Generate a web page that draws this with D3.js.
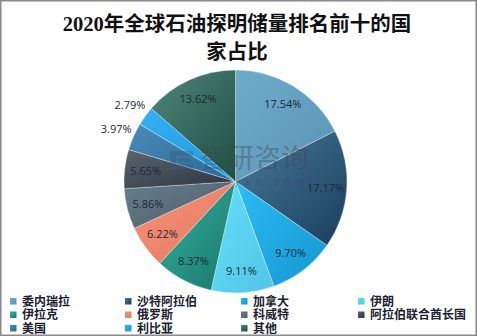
<!DOCTYPE html>
<html>
<head>
<meta charset="utf-8">
<script src="https://cdn.jsdelivr.net/npm/d3@7/dist/d3.min.js"></script>
<style>
  html, body { margin: 0; padding: 0; background: #fff; }
  svg { display: block; }
</style>
</head>
<body>
<svg id="chart" width="477" height="336"></svg>
<script>
// Share of proven oil reserves, 2020 (percent)
const countries = ["委内瑞拉", "沙特阿拉伯", "加拿大", "伊朗", "伊拉克", "俄罗斯", "科威特", "阿拉伯联合酋长国", "美国", "利比亚", "其他"];
const shares = [17.54, 17.17, 9.70, 9.11, 8.37, 6.22, 5.86, 5.65, 3.97, 2.79, 13.62];
const colorsLight = ["#6eabcb", "#4a7a9c", "#2cbcf4", "#66e0fa", "#36b0a0", "#f8907a", "#687c8a", "#5a6570", "#4a8ab8", "#36b0f4", "#50867a"];
const colorsDark  = ["#5a94b4", "#1a3e5c", "#1496d0", "#50c4e6", "#16786a", "#e47a60", "#4a5e6c", "#2a3440", "#2a6a96", "#1c98e0", "#1e4e44"];
const titleLines = ["2020年全球石油探明储量排名前十的国", "家占比"];

const W = 477, H = 336;
const cx = 235.5, cy = 181.5, R = 111.5;

const svg = d3.select("#chart");
const defs = svg.append("defs");

// outer frame
svg.append("rect")
  .attr("x", 0.75).attr("y", 0.75)
  .attr("width", W - 1.5).attr("height", H - 1.5)
  .attr("fill", "#fff").attr("stroke", "#8a8a8a").attr("stroke-width", 1.5);

// title
svg.append("g").selectAll("text")
  .data(titleLines)
  .join("text")
  .attr("x", 237)
  .attr("y", (d, i) => 31 + i * 27.5)
  .attr("text-anchor", "middle")
  .attr("font-family", "'Liberation Serif', 'Noto Sans CJK SC', serif")
  .attr("font-weight", "bold")
  .attr("font-size", 20.5)
  .attr("fill", "#111")
  .text(d => d);

const data = countries.map((c, i) => ({ name: c, value: shares[i], i }));

// per-slice shading
data.forEach(d => {
  const g = defs.append("linearGradient")
    .attr("id", "grad" + d.i)
    .attr("x1", 0).attr("y1", 0).attr("x2", 1).attr("y2", 1);
  g.append("stop").attr("offset", "0%").attr("stop-color", colorsLight[d.i]);
  g.append("stop").attr("offset", "100%").attr("stop-color", colorsDark[d.i]);
});

const pie = d3.pie().value(d => d.value).sort(null);
const arcs = pie(data);
const arc = d3.arc().innerRadius(0).outerRadius(R);

const pieG = svg.append("g").attr("transform", `translate(${cx},${cy})`);
pieG.selectAll("path")
  .data(arcs)
  .join("path")
  .attr("d", arc)
  .attr("fill", d => `url(#grad${d.data.i})`)
  .attr("stroke", "rgba(255,255,255,0.55)")
  .attr("stroke-width", 0.6);

// watermark
const wm = svg.append("g").attr("opacity", 0.38);
wm.append("path")
  .attr("d", "M193,151 H170 V169 H193 V164 H176 V156 H193 Z M178,158 H190 V162 H178 Z")
  .attr("fill", "#3c5a78");
wm.append("text")
  .attr("x", 200).attr("y", 168)
  .attr("font-family", "'Liberation Sans', 'Noto Sans CJK SC', sans-serif")
  .attr("font-size", 27)
  .attr("fill", "#404850")
  .text("智研咨询");
wm.append("text")
  .attr("x", 168).attr("y", 184.5)
  .attr("font-family", "'DejaVu Sans', sans-serif")
  .attr("font-size", 10)
  .attr("letter-spacing", 4.6)
  .attr("fill", "#404850")
  .text("www.chyxx.com");

// value labels
const inner = d3.arc().innerRadius(R * 0.81).outerRadius(R * 0.81);
const outer = d3.arc().innerRadius(R * 1.17).outerRadius(R * 1.17);
pieG.selectAll("text.lbl")
  .data(arcs)
  .join("text")
  .attr("class", "lbl")
  .attr("transform", d => {
    const p = (d.data.value < 5 ? outer : inner).centroid(d);
    return `translate(${p[0]},${p[1]})`;
  })
  .attr("text-anchor", "middle")
  .attr("dy", "0.35em")
  .attr("font-family", "'Open Sans', 'Noto Sans', sans-serif")
  .attr("font-size", 11)
  .attr("fill", "#1c2a38")
  .text(d => d.data.value.toFixed(2) + "%");

// legend
const colX = [10, 125, 241, 358];
const rowY = [301.5, 315, 328.5];
const leg = svg.append("g").selectAll("g")
  .data(data)
  .join("g")
  .attr("transform", d => `translate(${colX[d.i % 4]},${rowY[Math.floor(d.i / 4)]})`);
leg.append("rect")
  .attr("x", 0).attr("y", -3.5)
  .attr("width", 6.5).attr("height", 6.5)
  .attr("fill", d => `url(#grad${d.i})`);
leg.append("text")
  .attr("x", 12).attr("y", 0)
  .attr("dy", "0.36em")
  .attr("font-family", "'Liberation Sans', 'Noto Sans CJK SC', sans-serif")
  .attr("font-weight", "bold")
  .attr("font-size", 12)
  .attr("fill", "#1a2230")
  .text(d => d.name);
</script>
</body>
</html>
